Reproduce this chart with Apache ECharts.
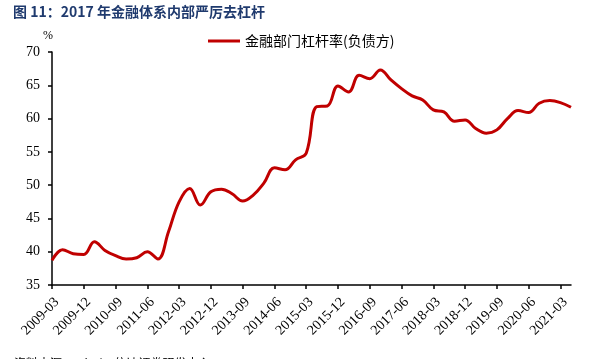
<!DOCTYPE html>
<html>
<head>
<meta charset="utf-8">
<script src="https://cdn.jsdelivr.net/npm/echarts@6/dist/echarts.min.js"></script>
<style>html,body{margin:0;padding:0;background:#fff;}#c{width:593px;height:359px;}</style>
</head>
<body>
<div id="c"></div>
<script>
var categories = ['2009-03','2009-06','2009-09','2009-12','2010-03','2010-06','2010-09','2010-12','2011-03','2011-06','2011-09','2011-12','2012-03','2012-06','2012-09','2012-12','2013-03','2013-06','2013-09','2013-12','2014-03','2014-06','2014-09','2014-12','2015-03','2015-06','2015-09','2015-12','2016-03','2016-06','2016-09','2016-12','2017-03','2017-06','2017-09','2017-12','2018-03','2018-06','2018-09','2018-12','2019-03','2019-06','2019-09','2019-12','2020-03','2020-06','2020-09','2020-12','2021-03','2021-06'];
var leverage = [38.7,40.3,39.7,39.6,41.5,40.2,39.4,38.9,39.1,40.0,38.9,43.0,47.5,49.5,47.0,49.0,49.4,48.7,47.6,48.5,50.3,52.6,52.3,53.8,54.8,61.8,61.9,64.9,64.0,66.5,66.0,67.3,65.8,64.5,63.4,62.8,61.3,61.0,59.6,59.8,58.5,57.8,58.3,60.0,61.2,60.9,62.3,62.7,62.4,61.7];
var seriesName = '金融部门杠杆率(负债方)';
var titleText = '图 11：2017 年金融体系内部严厉去杠杆';
var sourceText = '资料来源：Wind，信达证券研发中心';

var chart = echarts.init(document.getElementById('c'));
chart.setOption({
  animation: false,
  title: {
    text: titleText, left: 8, top: 0,
    textStyle: {fontFamily: 'Noto Sans CJK SC', fontSize: 14, fontWeight: 'bold', color: '#1F3A6E'}
  },
  legend: {
    top: 29, left: 203, itemWidth: 32, itemHeight: 3, itemGap: 4,
    icon: 'rect',
    textStyle: {fontFamily: 'Noto Sans CJK SC', fontSize: 14, color: '#000'},
    data: [seriesName]
  },
  grid: {left: 52, right: 22, top: 52, bottom: 74},
  xAxis: {
    type: 'category', data: categories, boundaryGap: false,
    axisLine: {lineStyle: {color: '#000', width: 1.5}},
    axisTick: {interval: 2, length: 4, lineStyle: {color: '#000', width: 1.5}},
    axisLabel: {interval: 2, rotate: 45, margin: 10, verticalAlign: 'top', fontFamily: 'Liberation Serif', fontSize: 14, color: '#000'}
  },
  yAxis: {
    type: 'value', min: 35, max: 70, interval: 5,
    name: '%', nameLocation: 'end', nameGap: 10,
    nameTextStyle: {fontFamily: 'Liberation Serif', fontSize: 12, color: '#000', padding: [0, 8, 0, 0]},
    splitLine: {show: false},
    axisLine: {show: true, lineStyle: {color: '#000', width: 1.5}},
    axisTick: {show: true, length: 4, lineStyle: {color: '#000', width: 1.5}},
    axisLabel: {margin: 12, fontFamily: 'Liberation Serif', fontSize: 14, color: '#000'}
  },
  graphic: [{
    type: 'text', left: 14, top: 357,
    style: {text: sourceText, fontFamily: 'Noto Sans CJK SC', fontSize: 12, fill: '#000'}
  }],
  series: [{
    name: seriesName, type: 'line', data: leverage, smooth: 0.4,
    showSymbol: false, symbol: 'none',
    lineStyle: {color: '#C00000', width: 3},
    itemStyle: {color: '#C00000'}
  }]
});
</script>
</body>
</html>
